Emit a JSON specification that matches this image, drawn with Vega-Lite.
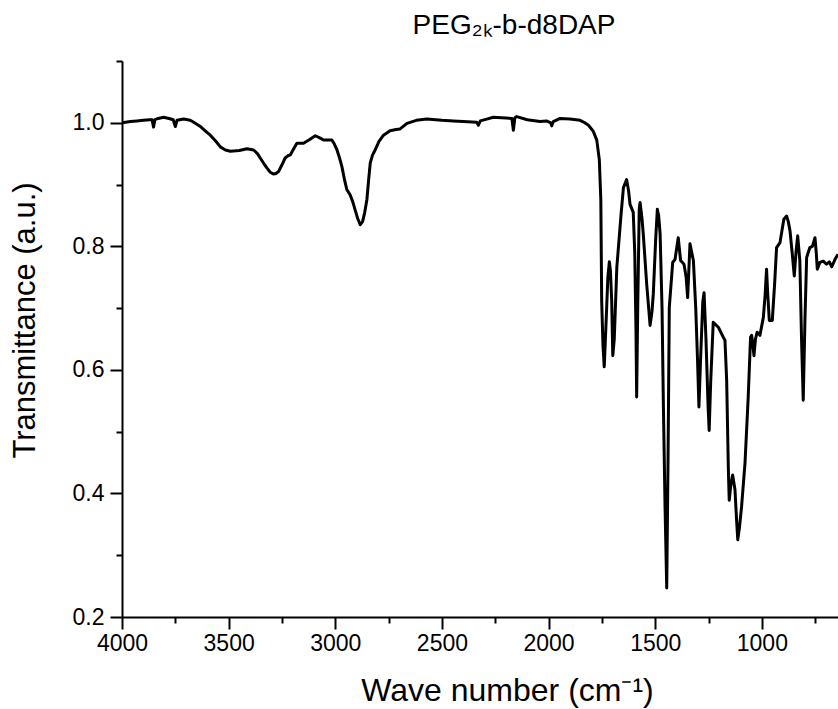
{
  "$schema": "https://vega.github.io/schema/vega-lite/v6.json",
  "autosize": "none",
  "width": 716,
  "height": 556,
  "padding": {"left": 122, "top": 61, "right": 0, "bottom": 92},
  "background": "white",
  "config": {"view": {"stroke": null}, "font": "Liberation Sans"},
  "title": {"text": "PEG₂ₖ-b-d8DAP", "fontSize": 28, "font": "Liberation Sans", "fontWeight": "normal", "frame": "group", "anchor": "middle", "dx": 34, "baseline": "alphabetic", "offset": -12, "color": "black"},
  "data": {"values": [
    {"wn": 4000, "T": 1.000}, {"wn": 3960, "T": 1.002}, {"wn": 3930, "T": 1.003}, {"wn": 3900, "T": 1.004},
    {"wn": 3870, "T": 1.005}, {"wn": 3859, "T": 1.005}, {"wn": 3852, "T": 0.993}, {"wn": 3846, "T": 1.005},
    {"wn": 3830, "T": 1.007}, {"wn": 3805, "T": 1.009}, {"wn": 3780, "T": 1.007}, {"wn": 3760, "T": 1.005},
    {"wn": 3750, "T": 0.994}, {"wn": 3742, "T": 1.004}, {"wn": 3711, "T": 1.006}, {"wn": 3680, "T": 1.004},
    {"wn": 3660, "T": 1.000}, {"wn": 3633, "T": 0.994}, {"wn": 3610, "T": 0.987}, {"wn": 3586, "T": 0.980},
    {"wn": 3560, "T": 0.970}, {"wn": 3539, "T": 0.961}, {"wn": 3515, "T": 0.956}, {"wn": 3492, "T": 0.954},
    {"wn": 3450, "T": 0.955}, {"wn": 3414, "T": 0.958}, {"wn": 3383, "T": 0.956}, {"wn": 3365, "T": 0.950},
    {"wn": 3352, "T": 0.943}, {"wn": 3335, "T": 0.934}, {"wn": 3321, "T": 0.927}, {"wn": 3305, "T": 0.920},
    {"wn": 3290, "T": 0.917}, {"wn": 3278, "T": 0.918}, {"wn": 3266, "T": 0.921}, {"wn": 3250, "T": 0.932},
    {"wn": 3235, "T": 0.943}, {"wn": 3220, "T": 0.947}, {"wn": 3211, "T": 0.948}, {"wn": 3195, "T": 0.958},
    {"wn": 3180, "T": 0.967}, {"wn": 3149, "T": 0.967}, {"wn": 3120, "T": 0.973}, {"wn": 3094, "T": 0.979},
    {"wn": 3075, "T": 0.976}, {"wn": 3055, "T": 0.972}, {"wn": 3016, "T": 0.972}, {"wn": 3005, "T": 0.966},
    {"wn": 2992, "T": 0.956}, {"wn": 2980, "T": 0.943}, {"wn": 2969, "T": 0.929}, {"wn": 2955, "T": 0.905},
    {"wn": 2946, "T": 0.892}, {"wn": 2930, "T": 0.883}, {"wn": 2918, "T": 0.872}, {"wn": 2907, "T": 0.859},
    {"wn": 2895, "T": 0.845}, {"wn": 2883, "T": 0.835}, {"wn": 2872, "T": 0.840}, {"wn": 2862, "T": 0.855},
    {"wn": 2852, "T": 0.875}, {"wn": 2843, "T": 0.910}, {"wn": 2836, "T": 0.935}, {"wn": 2825, "T": 0.948},
    {"wn": 2813, "T": 0.956}, {"wn": 2795, "T": 0.970}, {"wn": 2774, "T": 0.980}, {"wn": 2743, "T": 0.987},
    {"wn": 2715, "T": 0.989}, {"wn": 2696, "T": 0.990}, {"wn": 2664, "T": 0.999}, {"wn": 2620, "T": 1.004},
    {"wn": 2571, "T": 1.006}, {"wn": 2500, "T": 1.004}, {"wn": 2446, "T": 1.003}, {"wn": 2400, "T": 1.002},
    {"wn": 2337, "T": 1.001}, {"wn": 2329, "T": 0.996}, {"wn": 2320, "T": 1.003}, {"wn": 2290, "T": 1.006},
    {"wn": 2259, "T": 1.009}, {"wn": 2220, "T": 1.008}, {"wn": 2172, "T": 1.007}, {"wn": 2165, "T": 0.988},
    {"wn": 2158, "T": 1.008}, {"wn": 2149, "T": 1.010}, {"wn": 2100, "T": 1.005}, {"wn": 2040, "T": 1.002},
    {"wn": 2010, "T": 1.003}, {"wn": 1990, "T": 1.000}, {"wn": 1985, "T": 0.995}, {"wn": 1978, "T": 1.002},
    {"wn": 1946, "T": 1.007}, {"wn": 1900, "T": 1.006}, {"wn": 1852, "T": 1.004}, {"wn": 1830, "T": 1.000},
    {"wn": 1813, "T": 0.996}, {"wn": 1790, "T": 0.986}, {"wn": 1774, "T": 0.972}, {"wn": 1762, "T": 0.940},
    {"wn": 1755, "T": 0.875}, {"wn": 1751, "T": 0.712}, {"wn": 1745, "T": 0.640}, {"wn": 1739, "T": 0.605},
    {"wn": 1730, "T": 0.680}, {"wn": 1722, "T": 0.750}, {"wn": 1715, "T": 0.775}, {"wn": 1710, "T": 0.760},
    {"wn": 1704, "T": 0.712}, {"wn": 1699, "T": 0.623}, {"wn": 1692, "T": 0.650}, {"wn": 1680, "T": 0.766},
    {"wn": 1660, "T": 0.852}, {"wn": 1649, "T": 0.895}, {"wn": 1634, "T": 0.908}, {"wn": 1625, "T": 0.890},
    {"wn": 1618, "T": 0.868}, {"wn": 1603, "T": 0.855}, {"wn": 1596, "T": 0.790}, {"wn": 1590, "T": 0.659},
    {"wn": 1587, "T": 0.556}, {"wn": 1582, "T": 0.700}, {"wn": 1575, "T": 0.860}, {"wn": 1571, "T": 0.871},
    {"wn": 1562, "T": 0.845}, {"wn": 1556, "T": 0.820}, {"wn": 1540, "T": 0.739}, {"wn": 1524, "T": 0.672},
    {"wn": 1515, "T": 0.695}, {"wn": 1509, "T": 0.723}, {"wn": 1498, "T": 0.810}, {"wn": 1490, "T": 0.860},
    {"wn": 1484, "T": 0.850}, {"wn": 1477, "T": 0.820}, {"wn": 1468, "T": 0.700}, {"wn": 1462, "T": 0.550},
    {"wn": 1454, "T": 0.380}, {"wn": 1446, "T": 0.247}, {"wn": 1440, "T": 0.450}, {"wn": 1434, "T": 0.701},
    {"wn": 1418, "T": 0.774}, {"wn": 1407, "T": 0.779}, {"wn": 1392, "T": 0.814}, {"wn": 1381, "T": 0.777},
    {"wn": 1365, "T": 0.771}, {"wn": 1355, "T": 0.750}, {"wn": 1348, "T": 0.717}, {"wn": 1337, "T": 0.804},
    {"wn": 1321, "T": 0.777}, {"wn": 1310, "T": 0.700}, {"wn": 1302, "T": 0.620}, {"wn": 1295, "T": 0.540},
    {"wn": 1287, "T": 0.620}, {"wn": 1277, "T": 0.710}, {"wn": 1271, "T": 0.725}, {"wn": 1262, "T": 0.650},
    {"wn": 1252, "T": 0.540}, {"wn": 1247, "T": 0.502}, {"wn": 1240, "T": 0.580}, {"wn": 1228, "T": 0.677},
    {"wn": 1204, "T": 0.669}, {"wn": 1181, "T": 0.653}, {"wn": 1173, "T": 0.648}, {"wn": 1165, "T": 0.583},
    {"wn": 1157, "T": 0.438}, {"wn": 1153, "T": 0.389}, {"wn": 1145, "T": 0.415}, {"wn": 1137, "T": 0.430},
    {"wn": 1126, "T": 0.406}, {"wn": 1119, "T": 0.360}, {"wn": 1113, "T": 0.325}, {"wn": 1105, "T": 0.345},
    {"wn": 1095, "T": 0.379}, {"wn": 1079, "T": 0.449}, {"wn": 1064, "T": 0.556}, {"wn": 1053, "T": 0.653},
    {"wn": 1048, "T": 0.656}, {"wn": 1042, "T": 0.640}, {"wn": 1037, "T": 0.623}, {"wn": 1030, "T": 0.650},
    {"wn": 1022, "T": 0.661}, {"wn": 1009, "T": 0.656}, {"wn": 993, "T": 0.685}, {"wn": 985, "T": 0.720},
    {"wn": 978, "T": 0.763}, {"wn": 972, "T": 0.720}, {"wn": 965, "T": 0.680}, {"wn": 951, "T": 0.680},
    {"wn": 940, "T": 0.740}, {"wn": 931, "T": 0.798}, {"wn": 915, "T": 0.806}, {"wn": 897, "T": 0.844},
    {"wn": 884, "T": 0.849}, {"wn": 876, "T": 0.840}, {"wn": 868, "T": 0.825}, {"wn": 858, "T": 0.790},
    {"wn": 848, "T": 0.752}, {"wn": 840, "T": 0.790}, {"wn": 832, "T": 0.817}, {"wn": 822, "T": 0.777},
    {"wn": 814, "T": 0.650}, {"wn": 806, "T": 0.551}, {"wn": 798, "T": 0.680}, {"wn": 790, "T": 0.782},
    {"wn": 775, "T": 0.798}, {"wn": 763, "T": 0.800}, {"wn": 751, "T": 0.814}, {"wn": 745, "T": 0.790},
    {"wn": 740, "T": 0.763}, {"wn": 728, "T": 0.774}, {"wn": 712, "T": 0.776}, {"wn": 697, "T": 0.771},
    {"wn": 684, "T": 0.775}, {"wn": 672, "T": 0.767}, {"wn": 657, "T": 0.779}, {"wn": 643, "T": 0.787}
  ]},
  "mark": {"type": "line", "color": "black", "strokeWidth": 3, "clip": true, "strokeJoin": "round"},
  "encoding": {
    "x": {
      "field": "wn", "type": "quantitative",
      "scale": {"domain": [643, 4000], "reverse": true, "nice": false, "zero": false},
      "axis": {
        "values": [4000, 3750, 3500, 3250, 3000, 2750, 2500, 2250, 2000, 1750, 1500, 1250, 1000, 750],
        "format": "d",
        "labelExpr": "datum.value % 500 == 0 ? datum.label : ''",
        "tickSize": {"condition": {"test": "datum.value % 500 != 0", "value": 6}, "value": 12},
        "grid": false, "domainColor": "black", "domainWidth": 2, "tickColor": "black", "tickWidth": 2,
        "labelFontSize": 23, "labelFont": "Liberation Sans", "labelColor": "black", "labelPadding": 3,
        "labelFlush": false, "labelOverlap": false,
        "title": "Wave number (cm⁻¹)", "titleFontSize": 32, "titleFont": "Liberation Sans", "titleFontWeight": "normal",
        "titleColor": "black", "titleX": 385, "titleY": 83, "titleBaseline": "alphabetic", "titleAlign": "center"
      }
    },
    "y": {
      "field": "T", "type": "quantitative",
      "scale": {"domain": [0.2, 1.1], "nice": false, "zero": false},
      "axis": {
        "values": [0.2, 0.3, 0.4, 0.5, 0.6, 0.7, 0.8, 0.9, 1.0, 1.1],
        "format": ".1f",
        "labelExpr": "round(datum.value * 10) % 2 == 0 ? datum.label : ''",
        "tickSize": {"condition": {"test": "round(datum.value * 10) % 2 == 1", "value": 6}, "value": 12},
        "grid": false, "domainColor": "black", "domainWidth": 2, "tickColor": "black", "tickWidth": 2,
        "labelFontSize": 23, "labelFont": "Liberation Sans", "labelColor": "black", "labelPadding": 6,
        "labelFlush": false, "labelOverlap": false,
        "title": "Transmittance (a.u.)", "titleFontSize": 31, "titleFont": "Liberation Sans", "titleFontWeight": "normal",
        "titleColor": "black", "titleX": -88, "titleY": 259, "titleAngle": -90, "titleBaseline": "alphabetic", "titleAlign": "center"
      }
    }
  }
}
